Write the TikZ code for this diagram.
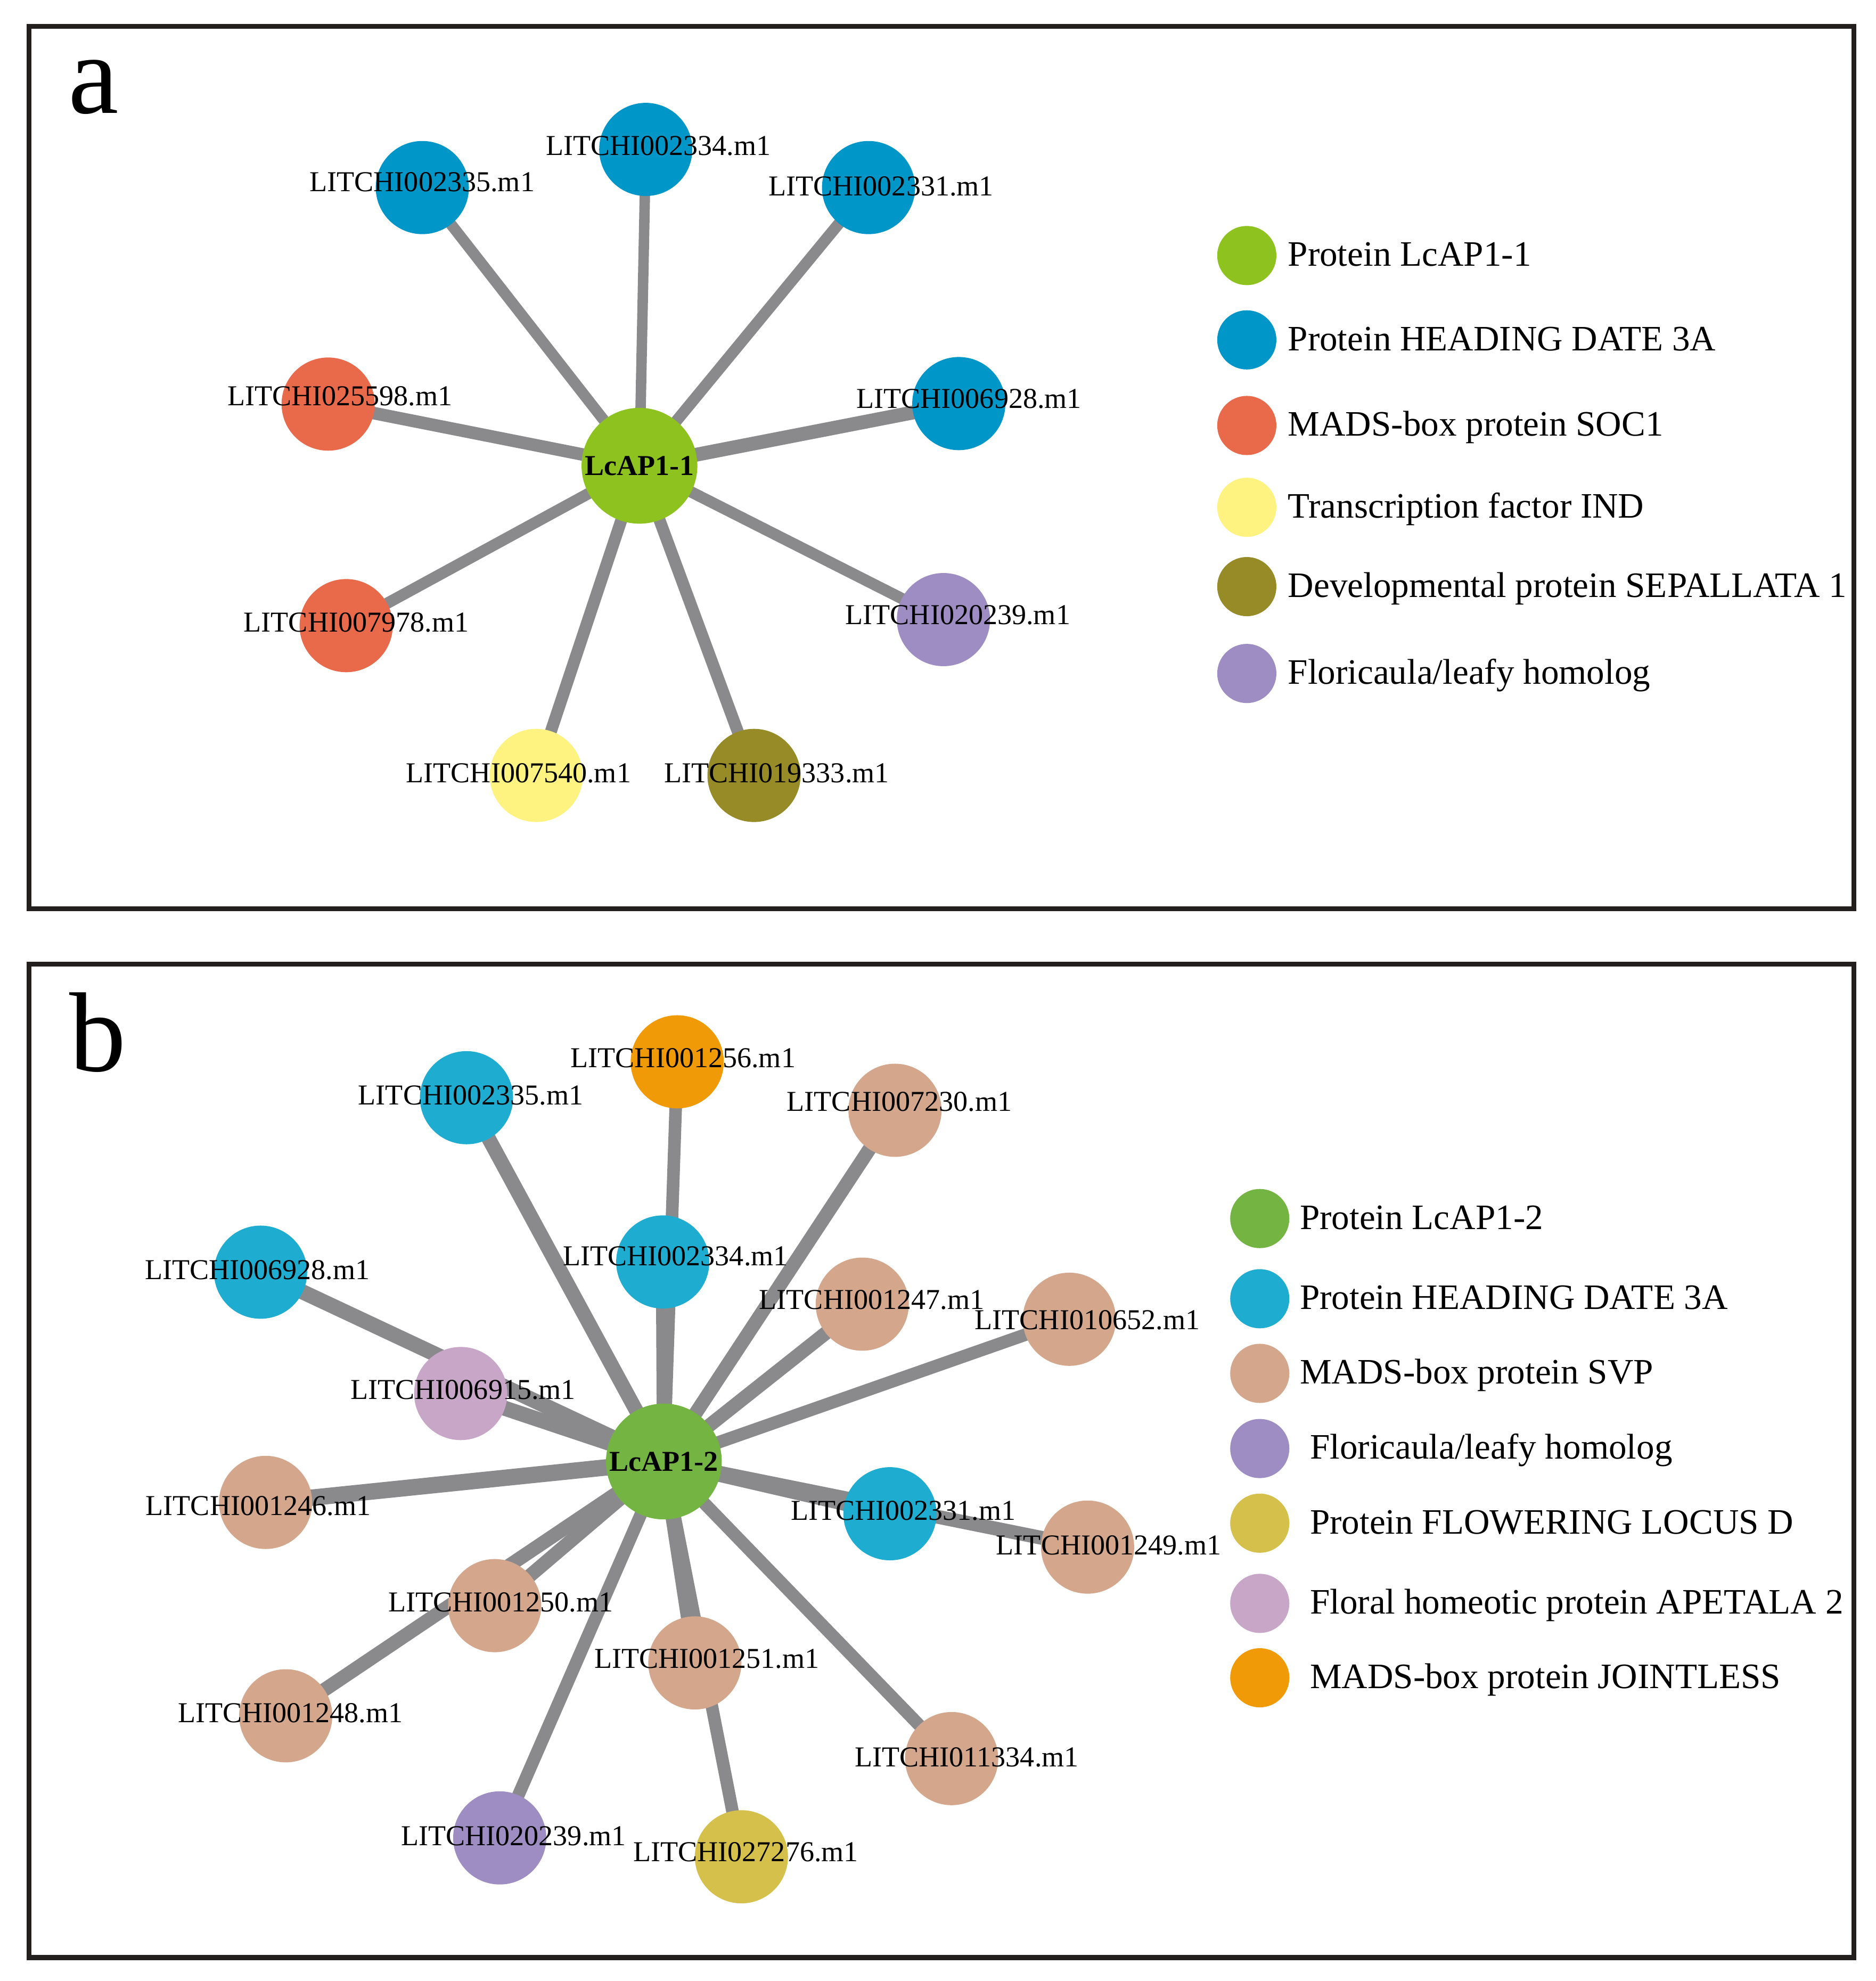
\documentclass[tikz,border=0pt]{standalone}
\usepackage{fontspec}
\setmainfont{Liberation Serif}
\pgfdeclarelayer{bg}
\pgfdeclarelayer{edges}
\pgfsetlayers{bg,edges,main}
\definecolor{edgegray}{HTML}{8A8A8C}
\definecolor{hubAcol}{HTML}{8DC21F}
\definecolor{blueA}{HTML}{0096C8}
\definecolor{redA}{HTML}{E9694B}
\definecolor{yellowA}{HTML}{FEF380}
\definecolor{oliveA}{HTML}{968B26}
\definecolor{purpleA}{HTML}{9D8DC3}
\definecolor{hubBcol}{HTML}{74B443}
\definecolor{blueB}{HTML}{1EADD0}
\definecolor{tanB}{HTML}{D4A78D}
\definecolor{mustardB}{HTML}{D4C04B}
\definecolor{lilacB}{HTML}{C8A6C8}
\definecolor{orangeB}{HTML}{EF9A06}
\definecolor{framecol}{HTML}{231F1C}
\newcommand{\lblfont}{\fontsize{22.9pt}{27pt}\selectfont}
\newcommand{\legfont}{\fontsize{28.4pt}{33pt}\selectfont}
\newcommand{\letfont}{\fontsize{90pt}{100pt}\selectfont}
\begin{document}
\begin{tikzpicture}[x=1pt,y=-1pt,
  leaf/.style={circle,minimum size=74pt,inner sep=0pt,draw=none},
  hubnode/.style={circle,minimum size=92pt,inner sep=0pt,draw=none,font=\lblfont\bfseries,text=black},
  lbl/.style={font=\lblfont,inner sep=0pt,text=black},
  legdot/.style={circle,minimum size=47pt,inner sep=0pt,draw=none},
  legtxt/.style={font=\legfont,anchor=base west,inner sep=0pt,text=black},
  edgeline/.style={draw=edgegray,line cap=butt},
  frameline/.style={draw=framecol,line width=4pt},
  panelletter/.style={font=\letfont,anchor=base west,inner sep=0pt,text=black}]

\begin{pgfonlayer}{bg}
\fill[white] (0,0) rectangle (1490,1573.7);
\end{pgfonlayer}
\useasboundingbox (0,0) rectangle (1490,1573.7);

% ---------------- panel a ----------------
\draw[frameline] (23,21) rectangle (1472.8,721.8);
\node[panelletter] (letA) at (54,89.9) {a};

\node[hubnode,fill=hubAcol] (hubA) at (508,370) {LcAP1-1};
\node[leaf,fill=blueA] (a2334) at (513,118.7) {};
\node[leaf,fill=blueA] (a2335) at (335.5,149) {};
\node[leaf,fill=blueA] (a2331) at (690,149) {};
\node[leaf,fill=redA] (a25598) at (260.7,321) {};
\node[leaf,fill=blueA] (a6928) at (761.7,320.6) {};
\node[leaf,fill=redA] (a7978) at (275,497) {};
\node[leaf,fill=purpleA] (a20239) at (749.5,492.2) {};
\node[leaf,fill=yellowA] (a7540) at (426,616) {};
\node[leaf,fill=oliveA] (a19333) at (599,616) {};

\begin{pgfonlayer}{edges}
\draw[edgeline,line width=8.3pt] (hubA.center) -- (a2334.center);
\draw[edgeline,line width=8.8pt] (hubA.center) -- (a2335.center);
\draw[edgeline,line width=9pt] (hubA.center) -- (a2331.center);
\draw[edgeline,line width=10pt] (hubA.center) -- (a25598.center);
\draw[edgeline,line width=11pt] (hubA.center) -- (a6928.center);
\draw[edgeline,line width=9pt] (hubA.center) -- (a7978.center);
\draw[edgeline,line width=9pt] (hubA.center) -- (a20239.center);
\draw[edgeline,line width=9.5pt] (hubA.center) -- (a7540.center);
\draw[edgeline,line width=9.5pt] (hubA.center) -- (a19333.center);
\end{pgfonlayer}

\node[lbl] (la2334) at (523,116) {LITCHI002334.m1};
\node[lbl] (la2335) at (335.4,144.5) {LITCHI002335.m1};
\node[lbl] (la2331) at (700,148) {LITCHI002331.m1};
\node[lbl] (la25598) at (270,314.5) {LITCHI025598.m1};
\node[lbl] (la6928) at (769.8,316.7) {LITCHI006928.m1};
\node[lbl] (la7978) at (283,494.6) {LITCHI007978.m1};
\node[lbl] (la20239) at (761,488.5) {LITCHI020239.m1};
\node[lbl] (la7540) at (412,614) {LITCHI007540.m1};
\node[lbl] (la19333) at (617,614) {LITCHI019333.m1};

% legend a
\node[legdot,fill=hubAcol] (ga1) at (990.5,203) {};
\node[legdot,fill=blueA] (ga2) at (990.5,270) {};
\node[legdot,fill=redA] (ga3) at (990.5,338) {};
\node[legdot,fill=yellowA] (ga4) at (990.5,403) {};
\node[legdot,fill=oliveA] (ga5) at (990.5,466) {};
\node[legdot,fill=purpleA] (ga6) at (990.5,535) {};
\node[legtxt] (ta1) at (1023,211.4) {Protein LcAP1-1};
\node[legtxt] (ta2) at (1023,278.4) {Protein HEADING DATE 3A};
\node[legtxt] (ta3) at (1023,346.4) {MADS-box protein SOC1};
\node[legtxt] (ta4) at (1023,411.4) {Transcription factor IND};
\node[legtxt] (ta5) at (1023,474.4) {Developmental protein SEPALLATA 1};
\node[legtxt] (ta6) at (1023,543.4) {Floricaula/leafy homolog};

% ---------------- panel b ----------------
\draw[frameline] (23,766) rectangle (1472.8,1555);
\node[panelletter] (letB) at (55,851) {b};

\node[hubnode,fill=hubBcol] (hubB) at (527.4,1161) {LcAP1-2};
\node[leaf,fill=blueB] (b2335) at (370.6,872) {};
\node[leaf,fill=orangeB] (b1256) at (538,843.5) {};
\node[leaf,fill=tanB] (b7230) at (711,882) {};
\node[leaf,fill=blueB] (b6928) at (207,1010.6) {};
\node[leaf,fill=blueB] (b2334) at (526.5,1002.5) {};
\node[leaf,fill=tanB] (b1247) at (685,1036) {};
\node[leaf,fill=tanB] (b10652) at (849.5,1048) {};
\node[leaf,fill=lilacB] (b6915) at (366,1107) {};
\node[leaf,fill=tanB] (b1246) at (211,1193.5) {};
\node[leaf,fill=blueB] (b2331) at (707,1202.5) {};
\node[leaf,fill=tanB] (b1249) at (864,1229) {};
\node[leaf,fill=tanB] (b1250) at (393,1275.5) {};
\node[leaf,fill=tanB] (b1251) at (552,1321) {};
\node[leaf,fill=tanB] (b1248) at (227,1363) {};
\node[leaf,fill=tanB] (b11334) at (756,1397) {};
\node[leaf,fill=purpleA] (b20239) at (397,1460) {};
\node[leaf,fill=mustardB] (b27276) at (589,1475) {};

\begin{pgfonlayer}{edges}
\draw[edgeline,line width=11.5pt] (hubB.center) -- (b2335.center);
\draw[edgeline,line width=10pt] (hubB.center) -- (b1256.center);
\draw[edgeline,line width=11pt] (hubB.center) -- (b2334.center);
\draw[edgeline,line width=11pt] (hubB.center) -- (b7230.center);
\draw[edgeline,line width=11pt] (hubB.center) -- (b1247.center);
\draw[edgeline,line width=10pt] (hubB.center) -- (b10652.center);
\draw[edgeline,line width=12pt] (hubB.center) -- (b6928.center);
\draw[edgeline,line width=12pt] (hubB.center) -- (b6915.center);
\draw[edgeline,line width=13pt] (hubB.center) -- (b1246.center);
\draw[edgeline,line width=12pt] (hubB.center) -- (b2331.center);
\draw[edgeline,line width=11pt] (hubB.center) -- (b1249.center);
\draw[edgeline,line width=11pt] (hubB.center) -- (b1250.center);
\draw[edgeline,line width=11pt] (hubB.center) -- (b1248.center);
\draw[edgeline,line width=11pt] (hubB.center) -- (b1251.center);
\draw[edgeline,line width=10pt] (hubB.center) -- (b27276.center);
\draw[edgeline,line width=10pt] (hubB.center) -- (b20239.center);
\draw[edgeline,line width=10pt] (hubB.center) -- (b11334.center);
\end{pgfonlayer}

\node[lbl] (lb2335) at (374,870) {LITCHI002335.m1};
\node[lbl] (lb1256) at (542.7,840.5) {LITCHI001256.m1};
\node[lbl] (lb7230) at (714.5,875) {LITCHI007230.m1};
\node[lbl] (lb6928) at (204.5,1008.7) {LITCHI006928.m1};
\node[lbl] (lb2334) at (536.6,998) {LITCHI002334.m1};
\node[lbl] (lb1247) at (692.5,1032.6) {LITCHI001247.m1};
\node[lbl] (lb10652) at (863.8,1048.7) {LITCHI010652.m1};
\node[lbl] (lb6915) at (367.9,1104) {LITCHI006915.m1};
\node[lbl] (lb2331) at (717.6,1200) {LITCHI002331.m1};
\node[lbl] (lb1249) at (880.8,1227.7) {LITCHI001249.m1};
\node[lbl] (lb11334) at (768,1396) {LITCHI011334.m1};
\node[lbl] (lb1246) at (205.2,1196.4) {LITCHI001246.m1};
\node[lbl] (lb1250) at (397.8,1273) {LITCHI001250.m1};
\node[lbl] (lb1251) at (561.5,1317.7) {LITCHI001251.m1};
\node[lbl] (lb1248) at (230.7,1360.7) {LITCHI001248.m1};
\node[lbl] (lb20239) at (408,1458.7) {LITCHI020239.m1};
\node[lbl] (lb27276) at (592.5,1471.3) {LITCHI027276.m1};

% legend b
\node[legdot,fill=hubBcol] (gb1) at (1000.8,968) {};
\node[legdot,fill=blueB] (gb2) at (1000.8,1031.7) {};
\node[legdot,fill=tanB] (gb3) at (1000.8,1091) {};
\node[legdot,fill=purpleA] (gb4) at (1000.8,1150.7) {};
\node[legdot,fill=mustardB] (gb5) at (1000.8,1210) {};
\node[legdot,fill=lilacB] (gb6) at (1000.8,1273.7) {};
\node[legdot,fill=orangeB] (gb7) at (1000.8,1332.8) {};
\node[legtxt] (tb1) at (1032.5,976.4) {Protein LcAP1-2};
\node[legtxt] (tb2) at (1032.5,1040.1) {Protein HEADING DATE 3A};
\node[legtxt] (tb3) at (1032.5,1099.4) {MADS-box protein SVP};
\node[legtxt] (tb4) at (1040.5,1159.1) {Floricaula/leafy homolog};
\node[legtxt] (tb5) at (1040.5,1218.4) {Protein FLOWERING LOCUS D};
\node[legtxt] (tb6) at (1040.5,1282.1) {Floral homeotic protein APETALA 2};
\node[legtxt] (tb7) at (1040.5,1341.2) {MADS-box protein JOINTLESS};
\end{tikzpicture}
\end{document}
